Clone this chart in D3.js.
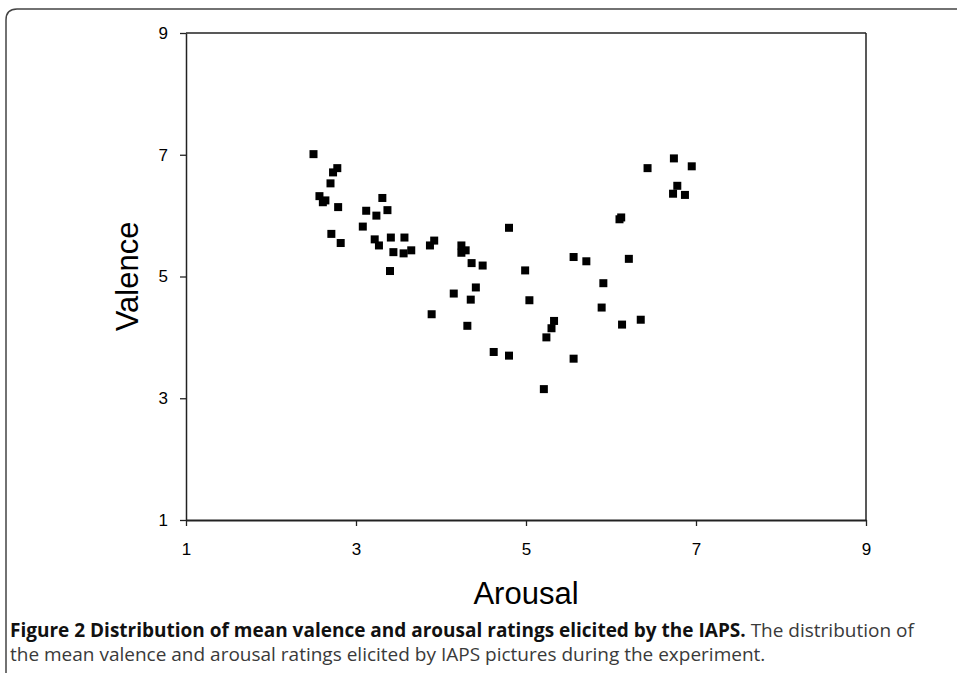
<!DOCTYPE html>
<html><head><meta charset="utf-8">
<script src="https://cdn.jsdelivr.net/npm/d3@7"></script>
<style>body{margin:0;background:#fff}svg{display:block}</style>
</head><body>
<svg id="c" width="957" height="673"></svg>
<script>
const arousal = [2.50,2.78,2.73,2.70,2.57,2.64,2.61,2.79,3.31,3.12,3.24,3.37,3.08,2.71,2.82,3.22,3.27,3.41,3.57,3.44,3.56,3.65,3.40,3.87,3.92,3.89,4.24,4.24,4.29,4.36,4.49,4.80,4.99,4.15,4.41,4.35,5.04,4.31,4.62,4.80,5.33,5.30,5.24,5.21,5.56,5.56,5.71,5.91,5.89,6.13,6.35,6.21,6.10,6.12,6.43,6.74,6.95,6.78,6.73,6.87];
const valence = [7.01,6.78,6.71,6.53,6.32,6.25,6.22,6.14,6.29,6.08,6.00,6.09,5.82,5.70,5.55,5.61,5.51,5.64,5.64,5.40,5.38,5.43,5.09,5.51,5.59,4.38,5.51,5.39,5.43,5.22,5.18,5.80,5.10,4.72,4.82,4.62,4.61,4.19,3.76,3.70,4.27,4.15,4.00,3.15,3.65,5.32,5.25,4.89,4.49,4.21,4.29,5.29,5.94,5.97,6.78,6.94,6.81,6.49,6.36,6.34];
const tickValues = [1,3,5,7,9];
const xLabel = "Arousal", yLabel = "Valence";
const captionBold = "Figure 2 Distribution of mean valence and arousal ratings elicited by the IAPS.";
const captionRest1 = " The distribution of";
const captionLine2 = "the mean valence and arousal ratings elicited by IAPS pictures during the experiment.";

const svg = d3.select("#c");
// frame
svg.append("path").attr("d","M6,673 L6,20 Q6,9 17,9 L957,9").attr("fill","none").attr("stroke","#444").attr("stroke-width",1.5);

const L=186,R=866,T=33,B=520;
const x = d3.scaleLinear().domain([1,9]).range([L,R]);
const y = d3.scaleLinear().domain([1,9]).range([B,T]);

// box
svg.append("line").attr("x1",L).attr("x2",R).attr("y1",T).attr("y2",T).attr("stroke","#222").attr("stroke-width",1.5);
svg.append("line").attr("x1",R).attr("x2",R).attr("y1",T).attr("y2",B).attr("stroke","#222").attr("stroke-width",1.5);

const fontAx = "Liberation Sans, Arial, sans-serif";
const xa = svg.append("g").attr("transform",`translate(0,${B})`).call(d3.axisBottom(x).tickValues(tickValues).tickSize(6).tickPadding(17).tickSizeOuter(0));
const ya = svg.append("g").attr("transform",`translate(${L},0)`).call(d3.axisLeft(y).tickValues(tickValues).tickSize(6).tickPadding(12).tickSizeOuter(0));
[xa,ya].forEach(g=>{
  g.attr("font-size",null).attr("font-family",null);
  g.selectAll("text").style("font-family",fontAx).style("font-size","17px").attr("fill","#000");
  g.selectAll("line").attr("stroke","#222").attr("stroke-width",1.3);
});
xa.select(".domain").attr("stroke","#222").attr("stroke-width",2);
ya.select(".domain").attr("stroke","#222").attr("stroke-width",1.5);

// points
const s=8;
svg.append("g").selectAll("rect").data(arousal.map((a,i)=>[a,valence[i]])).join("rect")
  .attr("x",d=>x(d[0])-s/2).attr("y",d=>y(d[1])-s/2).attr("width",s).attr("height",s).attr("fill","#000");

// axis titles
svg.append("text").attr("x",(L+R)/2).attr("y",604).attr("text-anchor","middle").attr("font-family",fontAx).attr("font-size",31).text(xLabel);
svg.append("text").attr("transform",`translate(138,${(T+B)/2}) rotate(-90)`).attr("text-anchor","middle").attr("font-family",fontAx).attr("font-size",31).text(yLabel);

// caption
const cf = "Open Sans, Noto Sans, sans-serif";
const t1 = svg.append("text").attr("x",10).attr("y",637).attr("font-family",cf).attr("font-size",19);
t1.append("tspan").attr("font-weight","bold").attr("fill","#111").text(captionBold);
t1.append("tspan").attr("fill","#3a3a3a").text(captionRest1);
svg.append("text").attr("x",10).attr("y",661).attr("font-family",cf).attr("font-size",19).attr("fill","#3a3a3a").text(captionLine2);
</script>
</body></html>
